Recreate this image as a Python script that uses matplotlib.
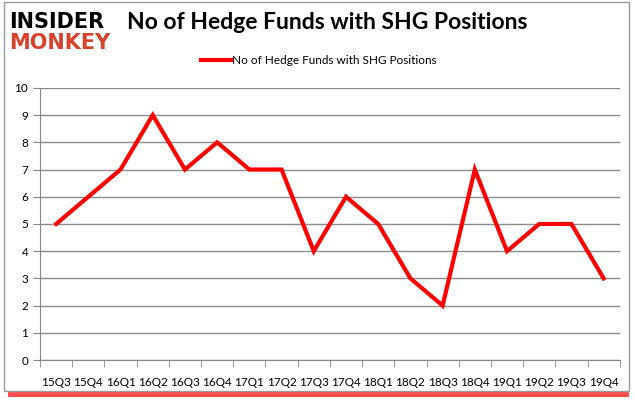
import matplotlib
matplotlib.use('Agg')
from matplotlib import pyplot as plt
from matplotlib.patches import Rectangle
import numpy as np

quarters = ['15Q3', '15Q4', '16Q1', '16Q2', '16Q3', '16Q4', '17Q1', '17Q2', '17Q3',
            '17Q4', '18Q1', '18Q2', '18Q3', '18Q4', '19Q1', '19Q2', '19Q3', '19Q4']
funds = [5, 6, 7, 9, 7, 8, 7, 7, 4, 6, 5, 3, 2, 7, 4, 5, 5, 3]

plt.rcParams['font.family'] = ['Lato', 'DejaVu Sans']

fig = plt.figure(figsize=(6.35, 4.05), dpi=100)

# chart frame with red shadow at the bottom
fig.patches.append(Rectangle((0.012, 0.02), 0.978, 0.015, transform=fig.transFigure,
                             facecolor='#ff2020', edgecolor='none', alpha=0.8, zorder=0))
fig.patches.append(Rectangle((0.006, 0.035), 0.984, 0.96, transform=fig.transFigure,
                             facecolor='white', edgecolor='#9a9a9a', linewidth=1, zorder=1))

ax = fig.add_axes([0.063, 0.111, 0.913, 0.672])
ax.set_zorder(2)
x = np.arange(len(quarters))
ax.plot(x, funds, color='#ff0000', linewidth=3, solid_joinstyle='miter',
        label='No of Hedge Funds with SHG Positions')

ax.set_xlim(-0.5, len(quarters) - 0.5)
ax.set_ylim(0, 10)
ax.set_yticks(range(0, 11))
ax.set_xticks(x)
ax.set_xticklabels(quarters)
ax.set_xticks(np.arange(-0.5, len(quarters)), minor=True)
ax.tick_params(axis='x', which='major', length=0, pad=12, labelsize=8.5)
ax.tick_params(axis='x', which='minor', length=5, color='#888888')
ax.tick_params(axis='y', length=5, color='#888888', labelsize=8.5)
ax.grid(axis='y', color='#8c8c8c', linewidth=1)
ax.set_axisbelow(True)
for s in ['top', 'right']:
    ax.spines[s].set_visible(False)
ax.spines['left'].set_color('#888888')
ax.spines['bottom'].set_color('#888888')

ax.legend(loc='lower center', bbox_to_anchor=(0.481, 1.04), frameon=False,
          fontsize=8.5, handlelength=2.6, handletextpad=0.1)

fig.text(0.515, 0.945, 'No of Hedge Funds with SHG Positions', ha='center', va='center',
         fontsize=16.5, fontweight='bold', color='black')

# logo
fig.text(0.015, 0.945, 'INSIDER', ha='left', va='center', fontsize=15,
         fontweight='heavy', color='black', family='DejaVu Sans')
fig.text(0.015, 0.895, 'MONKEY', ha='left', va='center', fontsize=15,
         fontweight='heavy', color='#d8412c', family='DejaVu Sans')

fig.savefig('out.png', dpi=100)
